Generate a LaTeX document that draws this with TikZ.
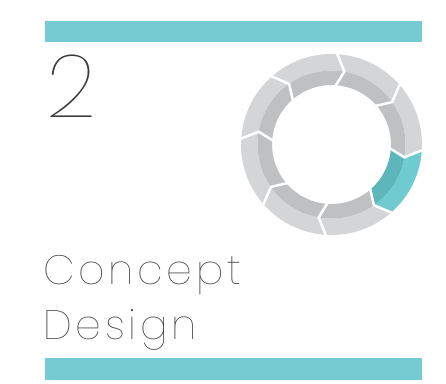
\documentclass[tikz,border=0pt]{standalone}
\usepackage{fontspec}
\newfontfamily\thinfont{Poppins}[UprightFont=* Thin, LetterSpace=9]
\newfontfamily\numfont{Poppins}[UprightFont=* Thin]
\definecolor{barteal}{HTML}{74CBD1}
\definecolor{ringlight}{HTML}{D4D5D7}
\definecolor{ringdark}{HTML}{BFC0C2}
\definecolor{teallight}{HTML}{70CBD0}
\definecolor{tealdark}{HTML}{5DB6BA}
\definecolor{textgray}{HTML}{3A3A3A}
\begin{document}
\begin{tikzpicture}[x=1pt, y=-1pt,
    bar/.style={fill=barteal},
    word/.style={anchor=base west, inner sep=0pt, text=textgray, font=\thinfont\fontsize{41}{41}\selectfont},
    gap/.style={white, line width=2.5pt}]
    \useasboundingbox (0,0) rectangle (446,383);

    \fill[bar] (45,21) rectangle (422,42);
    \fill[bar] (45,358) rectangle (422,380);

    \node[anchor=base west, inner sep=0pt, text=textgray, font=\numfont\fontsize{88}{88}\selectfont] (num) at (46,117) {2};
    \node[word] (concept) at (43,284) {Concept};
    \node[word] (design)  at (43,339) {Design};

    % ring of arrows, clockwise
    \begin{scope}[shift={(331.5,144.5)}]
        \foreach \a/\lt/\dk in {87/ringlight/ringdark, 42/ringlight/ringdark, -3/teallight/tealdark, -48/ringlight/ringdark,
                               -93/ringlight/ringdark, -138/ringlight/ringdark, 177/ringlight/ringdark, 132/ringlight/ringdark} {
            \pgfmathsetmacro\b{\a-45}
            \fill[\lt] (\a:90.5pt) arc[start angle=\a, end angle=\b, radius=90.5pt] -- ({\b-7}:74pt)
                arc[start angle=\b-7, end angle=\a-7, radius=74pt] -- cycle;
            \fill[\dk] ({\a-7}:74pt) arc[start angle=\a-7, end angle=\b-7, radius=74pt] -- (\b:59.5pt)
                arc[start angle=\b, end angle=\a, radius=59.5pt] -- cycle;
        }
        \foreach \a in {87,42,-3,-48,-93,-138,177,132}
            \draw[gap] (\a:93pt) -- ({\a-7}:74pt) -- (\a:57pt);
    \end{scope}
\end{tikzpicture}
\end{document}
